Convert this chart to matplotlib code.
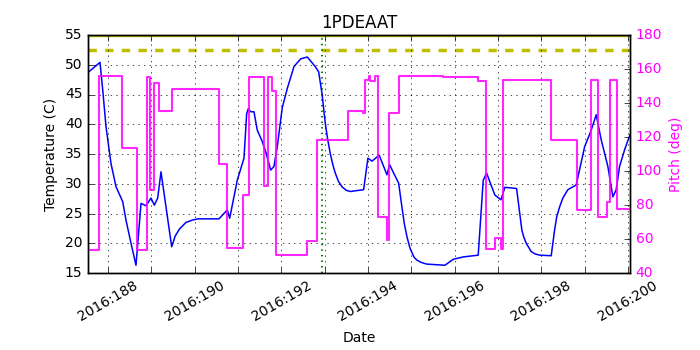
import numpy as np
import matplotlib
matplotlib.use("Agg")
import matplotlib.pyplot as plt
from matplotlib.ticker import FixedLocator, FuncFormatter

# temperature trace (day of year 2016, degC)
temp_days = [187.538, 187.815, 187.878, 187.954, 188.069, 188.185, 188.339, 188.415,
             188.531, 188.646, 188.762, 188.877, 188.992, 189.069, 189.147, 189.223,
             189.339, 189.470, 189.550, 189.650, 189.800, 189.950, 190.077, 190.562,
             190.753, 190.809, 190.984, 191.139, 191.201, 191.238, 191.293, 191.370,
             191.446, 191.561, 191.640, 191.755, 191.831, 191.907, 192.023, 192.138,
             192.293, 192.450, 192.600, 192.784, 192.863, 192.939, 193.015, 193.070,
             193.130, 193.190, 193.246, 193.320, 193.400, 193.500, 193.592, 193.901,
             194.000, 194.093, 194.261, 194.439, 194.501, 194.594, 194.709, 194.785,
             194.840, 194.901, 194.970, 195.062, 195.124, 195.220, 195.355, 195.777,
             195.969, 196.200, 196.546, 196.662, 196.740, 196.816, 196.931, 197.070,
             197.162, 197.432, 197.554, 197.600, 197.654, 197.769, 197.860, 197.963,
             198.231, 198.309, 198.360, 198.425, 198.500, 198.616, 198.808, 199.002,
             199.154, 199.270, 199.385, 199.539, 199.655, 199.731, 199.809, 199.925,
             200.047]
temp_vals = [48.7, 50.4, 45.8, 39.6, 33.4, 29.5, 27.0, 23.9,
             20.0, 16.3, 26.7, 26.3, 27.6, 26.4, 27.6, 32.0,
             26.1, 19.4, 21.2, 22.4, 23.5, 23.9, 24.1, 24.1,
             25.6, 24.2, 30.6, 34.3, 41.8, 42.6, 42.1, 42.1,
             39.0, 37.1, 35.4, 32.3, 32.9, 36.2, 42.8, 46.0,
             49.7, 51.0, 51.3, 49.7, 48.8, 45.2, 40.2, 37.5,
             35.1, 33.2, 31.8, 30.4, 29.5, 28.9, 28.7, 29.0,
             34.3, 33.8, 34.8, 31.5, 33.2, 31.8, 30.1, 26.1,
             23.3, 21.1, 19.2, 17.7, 17.2, 16.8, 16.5, 16.3,
             17.3, 17.7, 18.0, 30.6, 31.8, 30.3, 28.1, 27.3,
             29.4, 29.2, 22.2, 21.0, 20.0, 18.6, 18.2, 18.0,
             17.9, 22.2, 24.5, 26.1, 27.6, 29.0, 29.8, 36.2,
             39.0, 41.6, 37.4, 32.9, 27.8, 29.0, 32.9, 35.7,
             38.2]

# pitch trace, value holds from each day until the next
pitch_days = [187.538, 187.785, 188.323, 188.662, 188.900, 188.969, 189.069, 189.184,
              189.477, 190.562, 190.753, 191.123, 191.254, 191.600, 191.693, 191.792,
              191.870, 192.593, 192.824, 193.539, 193.880, 193.938, 194.016, 194.054,
              194.155, 194.231, 194.439, 194.493, 194.723, 195.738, 196.546, 196.724,
              196.931, 197.063, 197.109, 198.217, 198.831, 199.154, 199.309, 199.523,
              199.579, 199.747, 200.05]
pitch_vals = [53.5, 156.0, 113.4, 53.5, 155.5, 88.8, 152.0, 135.3,
              148.4, 104.0, 54.5, 85.9, 155.1, 91.4, 155.5, 147.2,
              50.4, 59.0, 118.2, 135.3, 134.1, 153.5, 156.1, 153.0,
              156.1, 73.1, 59.4, 134.3, 155.9, 155.5, 153.0, 54.1,
              60.4, 54.1, 153.5, 118.2, 77.1, 153.5, 72.8, 82.0,
              153.5, 77.7, 77.7]

planning_limit = 52.5
upper_limit = 55.0
marker_day = 192.93
day_ticks = list(range(188, 201))

plt.style.use('classic')
plt.rcParams['font.size'] = 10
fig = plt.figure(figsize=(7, 3.5), dpi=100, facecolor='white')
ax = fig.add_axes([0.1257, 0.22, 0.7743, 0.68])

ax.axhline(upper_limit, color='y', lw=2.5)
ax.axhline(planning_limit, color='y', lw=2.5, ls='--')
ax.axvline(marker_day, color='g', ls=':', lw=1.5)
ax.plot(temp_days, temp_vals, color='b', lw=1.1)

ax.set_xlim(187.538, 200.05)
ax.set_ylim(15, 55)
ax.set_yticks(np.arange(15, 56, 5))
ax.xaxis.set_major_locator(FixedLocator(day_ticks))
ax.xaxis.set_major_formatter(FuncFormatter(
    lambda d, pos: "2016:%d" % round(d) if round(d) % 2 == 0 else ""))
ax.grid(True)
ax.set_ylabel("Temperature (C)")
ax.set_xlabel("Date")
ax.set_title("1PDEAAT")
for lbl in ax.get_xticklabels():
    lbl.set_rotation(30)
    lbl.set_ha('center')

ax2 = ax.twinx()
ax2.plot(pitch_days, pitch_vals, color='magenta', lw=1.5, drawstyle='steps-post', alpha=0.85)
ax2.set_ylim(40, 180)
ax2.set_yticks(np.arange(40, 181, 20))
ax2.set_ylabel("Pitch (deg)", color='magenta')
for lbl in ax2.get_yticklabels():
    lbl.set_color('magenta')
ax2.set_xlim(187.538, 200.05)

fig.savefig("out.png", dpi=100, facecolor='white')
